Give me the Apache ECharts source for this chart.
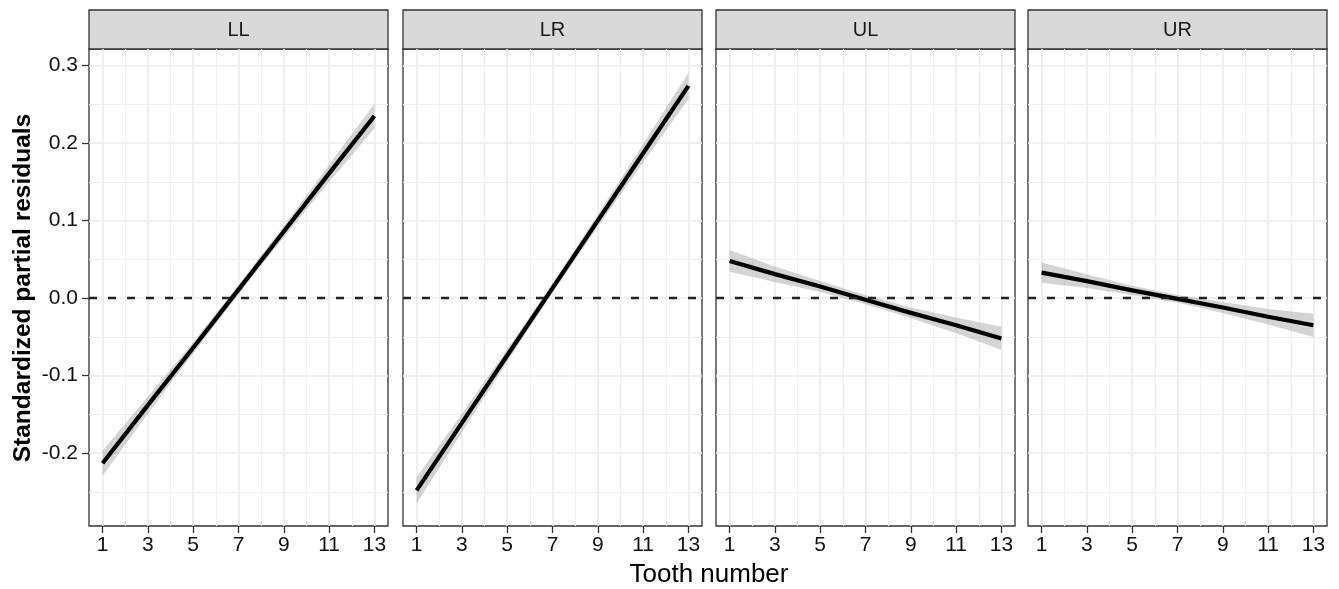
<!DOCTYPE html>
<html>
<head>
<meta charset="utf-8">
<script src="https://cdn.jsdelivr.net/npm/echarts@6/dist/echarts.min.js"></script>
<style>
html, body { margin: 0; padding: 0; background: #fff; }
#main { width: 1339px; height: 589px; }
</style>
</head>
<body>
<div id="main"></div>
<script>
// facets and data
var panels = ['LL', 'LR', 'UL', 'UR'];
var teeth = [1, 3, 5, 7, 9, 11, 13];
var fitLL = [-0.213, -0.138, -0.064, 0.011, 0.086, 0.161, 0.235];
var fitLR = [-0.248, -0.161, -0.074, 0.013, 0.100, 0.187, 0.274];
var fitUL = [0.048, 0.031, 0.015, -0.002, -0.019, -0.035, -0.052];
var fitUR = [0.033, 0.022, 0.010, -0.001, -0.012, -0.024, -0.035];
// half width of the grey confidence band
var seLL = [0.016, 0.011, 0.007, 0.006, 0.007, 0.011, 0.016];
var seLR = [0.017, 0.012, 0.008, 0.006, 0.008, 0.012, 0.017];
var seUL = [0.014, 0.010, 0.007, 0.006, 0.007, 0.010, 0.015];
var seUR = [0.013, 0.009, 0.006, 0.005, 0.007, 0.010, 0.015];
var xTicks = [1, 3, 5, 7, 9, 11, 13];
var xMinor = [2, 4, 6, 8, 10, 12];
var yTicks = [-0.2, -0.1, 0, 0.1, 0.2, 0.3];
var yMinor = [-0.25, -0.15, -0.05, 0.05, 0.15, 0.25];

var fits = [fitLL, fitLR, fitUL, fitUR];
var ses = [seLL, seLR, seUL, seUR];

var font = 'Liberation Sans';
var lefts = [89, 403, 716, 1028];
var panelW = 299, panelTop = 49, panelH = 477;
var xMin = 0.4, xMax = 13.6, yMin = -0.294, yMax = 0.3215;

var myChart = echarts.init(document.getElementById('main'));

var grids = [], xAxes = [], yAxes = [], series = [], graphics = [];

panels.forEach(function (name, i) {
    grids.push({
        left: lefts[i], top: panelTop, width: panelW, height: panelH,
        show: true, borderColor: '#333', borderWidth: 1.3, backgroundColor: '#fff'
    });
    // major x grid + labels
    xAxes.push({
        type: 'value', gridIndex: i, min: xMin, max: xMax,
        axisLine: { show: false, onZero: false },
        axisTick: { customValues: xTicks, length: 7, lineStyle: { color: '#333', width: 1.3 } },
        axisLabel: { customValues: xTicks, fontSize: 21, color: '#111', margin: 9, fontFamily: font },
        splitLine: { lineStyle: { color: '#EBEBEB', width: 1.6 } }
    });
    // minor x grid
    xAxes.push({
        type: 'value', gridIndex: i, min: xMin, max: xMax, position: 'bottom',
        axisLine: { show: false, onZero: false },
        axisTick: { show: false, customValues: xMinor },
        axisLabel: { show: false, customValues: xMinor },
        splitLine: { lineStyle: { color: '#F0F0F0', width: 1 } }
    });
    yAxes.push({
        type: 'value', gridIndex: i, min: yMin, max: yMax,
        axisLine: { show: false, onZero: false },
        axisTick: { show: i === 0, customValues: yTicks, length: 7, lineStyle: { color: '#333', width: 1.3 } },
        axisLabel: {
            show: i === 0, customValues: yTicks, fontSize: 21, color: '#111', margin: 11, fontFamily: font,
            formatter: function (v) { return v.toFixed(1); }
        },
        splitLine: { lineStyle: { color: '#EBEBEB', width: 1.6 } }
    });
    yAxes.push({
        type: 'value', gridIndex: i, min: yMin, max: yMax, position: 'left',
        axisLine: { show: false, onZero: false },
        axisTick: { show: false, customValues: yMinor },
        axisLabel: { show: false, customValues: yMinor },
        splitLine: { lineStyle: { color: '#F0F0F0', width: 1 } }
    });

    var fit = fits[i], se = ses[i];
    var ribbon = teeth.map(function (x, k) { return [x, fit[k] - se[k], fit[k] + se[k]]; });
    var line = teeth.map(function (x, k) { return [x, fit[k]]; });

    // confidence band as one polygon
    series.push({
        type: 'custom', xAxisIndex: 2 * i, yAxisIndex: 2 * i, data: ribbon,
        silent: true, z: 2,
        encode: { x: 0, y: [1, 2] },
        renderItem: function (params, api) {
            if (params.dataIndex !== 0) return null;
            var lo = ribbon.map(function (d) { return api.coord([d[0], d[1]]); });
            var hi = ribbon.map(function (d) { return api.coord([d[0], d[2]]); }).reverse();
            return {
                type: 'polygon',
                shape: { points: lo.concat(hi) },
                style: { fill: '#999', opacity: 0.42 }
            };
        }
    });
    series.push({
        type: 'line', xAxisIndex: 2 * i, yAxisIndex: 2 * i, data: line,
        symbol: 'none', silent: true, z: 3,
        lineStyle: { color: '#000', width: 4.2 },
        markLine: {
            silent: true, symbol: 'none', label: { show: false },
            lineStyle: { color: '#222', type: [8, 11], width: 2.3 },
            data: [{ yAxis: 0 }]
        }
    });

    // facet strip
    graphics.push({
        type: 'rect', shape: { x: lefts[i], y: 10, width: panelW, height: 39 },
        style: { fill: '#D9D9D9', stroke: '#333', lineWidth: 1.3 }
    });
    graphics.push({
        type: 'text', x: lefts[i] + panelW / 2, y: 30,
        style: { text: name, align: 'center', verticalAlign: 'middle', font: '20px "Liberation Sans"', fill: '#1a1a1a' }
    });
});

graphics.push({
    type: 'text', x: 709, y: 575,
    style: { text: 'Tooth number', align: 'center', verticalAlign: 'middle', font: '26px "Liberation Sans"', fill: '#000' }
});
graphics.push({
    type: 'text', x: 23, y: 288, rotation: Math.PI / 2,
    style: { text: 'Standardized partial residuals', align: 'center', verticalAlign: 'middle', font: 'bold 24.5px "Liberation Sans"', fill: '#000' }
});

option = {
    animation: false,
    backgroundColor: '#fff',
    grid: grids,
    xAxis: xAxes,
    yAxis: yAxes,
    series: series,
    graphic: graphics
};
myChart.setOption(option);
</script>
</body>
</html>
